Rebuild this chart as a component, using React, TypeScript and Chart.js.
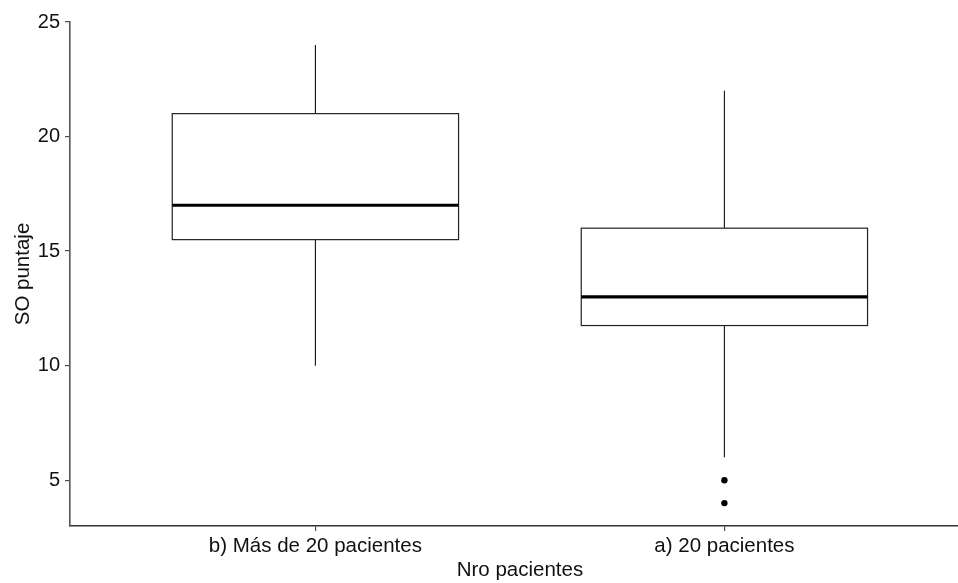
import React, { useEffect, useRef } from "react";
import { Chart, registerables } from "chart.js";

Chart.register(...registerables);

const categories = ["b) Más de 20 pacientes", "a) 20 pacientes"];
const whiskerLow = [10, 6];
const q1 = [15.5, 11.75];
const median = [17, 13];
const q3 = [21, 16];
const whiskerHigh = [24, 22];
const outliers: number[][] = [[], [5, 4]];
const yTicks = [5, 10, 15, 20, 25];

const FONT = "'Liberation Sans', Arial, sans-serif";

const boxPlugin = {
  id: "boxplot",
  beforeDatasetsDraw(chart: any) {
    const { ctx, scales } = chart;
    const xs = scales.x;
    const ys = scales.y;
    const halfW = 0.35;
    ctx.save();
    categories.forEach((_, i) => {
      const cx = xs.getPixelForValue(i + 1);
      const left = xs.getPixelForValue(i + 1 - halfW);
      const right = xs.getPixelForValue(i + 1 + halfW);
      const yLow = ys.getPixelForValue(whiskerLow[i]);
      const yQ1 = ys.getPixelForValue(q1[i]);
      const yMed = ys.getPixelForValue(median[i]);
      const yQ3 = ys.getPixelForValue(q3[i]);
      const yHigh = ys.getPixelForValue(whiskerHigh[i]);
      // whiskers
      ctx.strokeStyle = "#111";
      ctx.lineWidth = 1.1;
      ctx.beginPath();
      ctx.moveTo(cx, yQ3);
      ctx.lineTo(cx, yHigh);
      ctx.moveTo(cx, yQ1);
      ctx.lineTo(cx, yLow);
      ctx.stroke();
      // box
      ctx.fillStyle = "#ffffff";
      ctx.fillRect(left, yQ3, right - left, yQ1 - yQ3);
      ctx.strokeStyle = "#222";
      ctx.lineWidth = 1.2;
      ctx.strokeRect(left, yQ3, right - left, yQ1 - yQ3);
      // median
      ctx.strokeStyle = "#000";
      ctx.lineWidth = 3.2;
      ctx.beginPath();
      ctx.moveTo(left, yMed);
      ctx.lineTo(right, yMed);
      ctx.stroke();
    });
    ctx.restore();
  },
};

export default function App() {
  const ref = useRef<HTMLCanvasElement>(null);
  useEffect(() => {
    if (!ref.current) return;
    const outlierPoints: { x: number; y: number }[] = [];
    outliers.forEach((arr, i) => arr.forEach((v) => outlierPoints.push({ x: i + 1, y: v })));
    const chart = new Chart(ref.current, {
      type: "scatter",
      data: {
        datasets: [
          {
            data: outlierPoints,
            backgroundColor: "#000",
            borderColor: "#000",
            pointRadius: 3.2,
            pointHoverRadius: 3.2,
            borderWidth: 0,
          },
        ],
      },
      options: {
        animation: false,
        responsive: false,
        devicePixelRatio: 1,
        layout: { padding: { top: 22, right: 0, left: 0, bottom: 0 } },
        plugins: { legend: { display: false }, tooltip: { enabled: false } },
        scales: {
          x: {
            type: "linear",
            min: 0.4,
            max: 2.6,
            afterBuildTicks: (scale: any) => {
              scale.ticks = categories.map((_, i) => ({ value: i + 1 }));
            },
            afterFit: (scale: any) => {
              scale.height = 57;
            },
            ticks: {
              callback: (v: any) => categories[Number(v) - 1] ?? "",
              font: { family: FONT, size: 20.5 },
              color: "#111",
              padding: 3,
              maxRotation: 0,
              autoSkip: false,
            },
            grid: {
              display: true,
              drawOnChartArea: false,
              drawTicks: true,
              tickLength: 5,
              color: "#4d4d4d",
              lineWidth: 1.2,
            },
            border: { display: true, color: "#333", width: 1.6 },
            title: {
              display: true,
              text: "Nro pacientes",
              font: { family: FONT, size: 20.5 },
              color: "#111",
              padding: { top: 0, bottom: 0 },
            },
          },
          y: {
            type: "linear",
            min: 3,
            max: 25,
            afterBuildTicks: (scale: any) => {
              scale.ticks = yTicks.map((v) => ({ value: v }));
            },
            afterFit: (scale: any) => {
              scale.width = 70;
            },
            ticks: {
              font: { family: FONT, size: 20 },
              color: "#111",
              padding: 5,
            },
            grid: {
              display: true,
              drawOnChartArea: false,
              drawTicks: true,
              tickLength: 5,
              color: "#4d4d4d",
              lineWidth: 1.2,
            },
            border: { display: true, color: "#555", width: 1.6 },
            title: {
              display: true,
              text: "SO puntaje",
              font: { family: FONT, size: 20.5 },
              color: "#111",
              padding: { top: 11, bottom: 0 },
            },
          },
        },
      },
      plugins: [boxPlugin],
    });
    return () => chart.destroy();
  }, []);
  return (
    <div
      style={{
        position: "fixed",
        left: 0,
        top: 0,
        width: 958,
        height: 583,
        overflow: "hidden",
        background: "#fff",
      }}
    >
      <canvas ref={ref} width={973} height={583} style={{ display: "block" }} />
    </div>
  );
}
